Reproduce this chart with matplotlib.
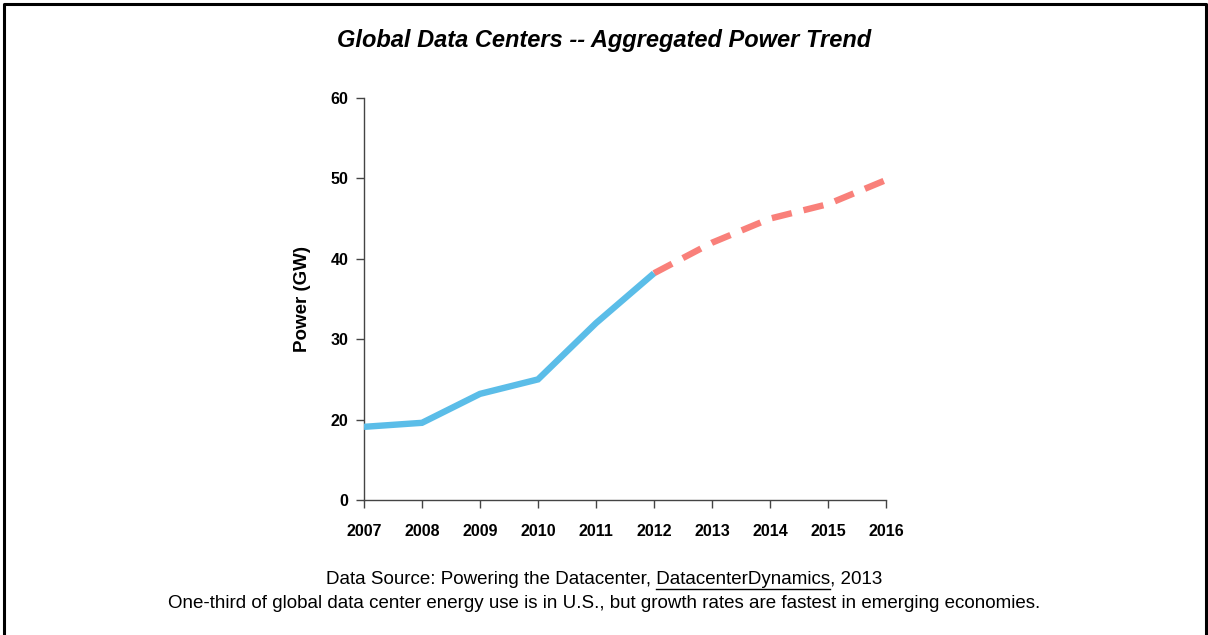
import matplotlib
matplotlib.use("Agg")
import matplotlib.pyplot as plt
from matplotlib.lines import Line2D

years_actual = [2007, 2008, 2009, 2010, 2011, 2012]
power_actual = [19.1, 19.6, 23.2, 25.0, 32.0, 38.2]
years_proj = [2012, 2013, 2014, 2015, 2016]
power_proj = [38.2, 42.0, 45.0, 46.8, 49.8]
# the source chart puts its "0" label where 10 would fall
yticks = [10, 20, 30, 40, 50, 60]
ytick_labels = ['0', '20', '30', '40', '50', '60']

title = 'Global Data Centers -- Aggregated Power Trend'
src_prefix = 'Data Source: Powering the Datacenter, '
src_link = 'DatacenterDynamics'
src_suffix = ', 2013'
note = ('One-third of global data center energy use is in U.S., '
        'but growth rates are fastest in emerging economies.')

plt.rcParams['font.family'] = ['Liberation Sans', 'DejaVu Sans']

W, H = 1208, 635
fig = plt.figure(figsize=(W / 100, H / 100), dpi=100)
ax = fig.add_axes([364 / W, 1 - 500 / H, (886 - 364) / W, (500 - 98) / H])

ax.plot(years_actual, power_actual, color='#5BBDE8', lw=4.6,
        solid_capstyle='butt', solid_joinstyle='miter', zorder=3)
ax.plot(years_proj, power_proj, color='#F9807A', lw=4.6,
        dashes=(3.2, 1.9), dash_capstyle='butt', zorder=2)

ax.set_xlim(2007, 2016)
ax.set_ylim(10, 60)
ax.set_xticks(years_actual + years_proj[1:])
ax.set_yticks(yticks)
ax.set_yticklabels(ytick_labels)
for s in ['top', 'right']:
    ax.spines[s].set_visible(False)
for s in ['left', 'bottom']:
    ax.spines[s].set_color('#444444')
    ax.spines[s].set_linewidth(1.0)
ax.tick_params(direction='out', length=6, width=1.0, color='#444444',
               labelsize=11.5, pad=5)
ax.tick_params(axis='x', pad=11)
for lab in ax.get_xticklabels() + ax.get_yticklabels():
    lab.set_fontweight('bold')
ax.set_ylabel('Power (GW)', fontsize=13.5, fontweight='bold', labelpad=14)

fig.text(0.5, 1 - 40 / H, title, ha='center', va='center',
         fontsize=17, fontweight='bold', fontstyle='italic')

fs = 13.5
line1 = src_prefix + src_link + src_suffix
t1 = fig.text(0.5, 1 - 580 / H, line1, ha='center', va='center', fontsize=fs)
fig.text(0.5, 1 - 603 / H, note, ha='center', va='center', fontsize=fs)

# underline the linked name
fig.canvas.draw()
r = fig.canvas.get_renderer()
bb = t1.get_window_extent(r)
tmp = fig.text(0, 0, src_prefix + src_link, fontsize=fs)
tmp2 = fig.text(0, 0, src_link, fontsize=fs)
w_all = tmp.get_window_extent(r).width
w_link = tmp2.get_window_extent(r).width
tmp.remove()
tmp2.remove()
x_end = bb.x0 + w_all
x_start = x_end - w_link
y_ul = H - 589
fig.add_artist(Line2D([x_start / W, x_end / W], [y_ul / H, y_ul / H],
                      color='black', lw=1.0, transform=fig.transFigure))

# outer frame (open at the bottom)
fig.add_artist(Line2D([4 / W, 4 / W, 1205.5 / W, 1205.5 / W],
                      [0, 1 - 4 / H, 1 - 4 / H, 0],
                      color='black', lw=2.2, transform=fig.transFigure))

fig.savefig('out.png', dpi=100)
